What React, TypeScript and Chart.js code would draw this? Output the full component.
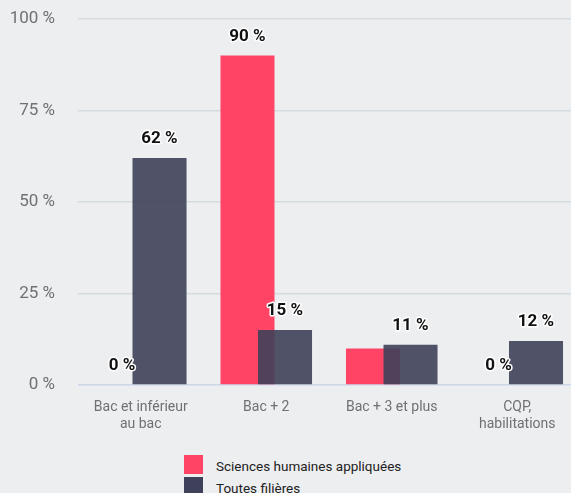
import React, { useEffect, useRef } from "react";
import { Chart, registerables } from "chart.js";

Chart.register(...registerables);

const categories: (string | string[])[] = [
  ["Bac et inférieur", "au bac"],
  "Bac + 2",
  "Bac + 3 et plus",
  ["CQP,", "habilitations"],
];
const seriesNames = ["Sciences humaines appliquées", "Toutes filières"];
const sciencesValues = [0, 90, 10, 0];
const toutesValues = [62, 15, 11, 12];
const yTicks = [0, 25, 50, 75, 100];

const PINK = "#ff4466";
const DARK = "rgba(62,65,89,0.9)";
const DARK_SOLID = "#3e4159";
const FONT = "Roboto";

let drawingLate = false;

const dataLabelPlugin = {
  id: "dataLabels",
  beforeDatasetDraw(chart: any, args: any) {
    // the second series is drawn on top of the first one
    if (args.index === 1 && !drawingLate) return false;
    return true;
  },
  afterDatasetsDraw(chart: any) {
    const ctx = chart.ctx;
    drawingLate = true;
    const lateMeta = chart.getDatasetMeta(1);
    if (lateMeta && !lateMeta.hidden) lateMeta.controller.draw();
    drawingLate = false;

    ctx.save();
    ctx.font = `bold 17px ${FONT}`;
    ctx.textAlign = "center";
    ctx.textBaseline = "middle";
    ctx.lineJoin = "round";
    const labels: any[] = [];
    chart.data.datasets.forEach((ds: any, di: number) => {
      const meta = chart.getDatasetMeta(di);
      meta.data.forEach((bar: any, i: number) => {
        const value = ds.data[i];
        const text = `${value} %`;
        const w = ctx.measureText(text).width + 6;
        const y = bar.y - 19;
        labels.push({ text, value, x: bar.x, y, w, h: 20 });
      });
    });
    // hide overlapping labels, keep higher values first
    const placed: any[] = [];
    [...labels]
      .sort((a, b) => b.value - a.value)
      .forEach((l) => {
        const hit = placed.some(
          (p) => Math.abs(p.x - l.x) < (p.w + l.w) / 2 && Math.abs(p.y - l.y) < (p.h + l.h) / 2
        );
        if (!hit) placed.push(l);
      });
    labels.forEach((l) => {
      if (!placed.includes(l)) return;
      ctx.strokeStyle = "#ffffff";
      ctx.lineWidth = 3;
      ctx.strokeText(l.text, l.x, l.y);
      ctx.fillStyle = "#111111";
      ctx.fillText(l.text, l.x, l.y);
    });
    ctx.restore();
  },
};

function ChartView() {
  const ref = useRef<HTMLCanvasElement | null>(null);
  useEffect(() => {
    document.body.style.margin = "0";
    document.body.style.background = "#edeef0";
    if (!ref.current) return;
    const chart = new Chart(ref.current, {
      type: "bar",
      data: {
        labels: categories as any,
        datasets: [
          {
            label: seriesNames[0],
            data: sciencesValues,
            backgroundColor: PINK,
            categoryPercentage: 0.598,
            barPercentage: 1.44,
          },
          {
            label: seriesNames[1],
            data: toutesValues,
            backgroundColor: DARK,
            categoryPercentage: 0.598,
            barPercentage: 1.44,
          },
        ],
      },
      options: {
        animation: false,
        responsive: false,
        maintainAspectRatio: false,
        layout: { padding: { top: 19, left: 0, right: 0, bottom: 0 } },
        plugins: {
          legend: { display: false },
          tooltip: { enabled: false },
        },
        scales: {
          x: {
            grid: { display: false, drawTicks: false },
            border: { display: false },
            ticks: {
              padding: 14,
              color: "#707070",
              font: { family: FONT, size: 14, lineHeight: 17 / 14 },
              maxRotation: 0,
              autoSkip: false,
            },
            afterFit: (scale: any) => {
              scale.height = 55;
            },
          },
          y: {
            min: 0,
            max: 100,
            afterBuildTicks: (scale: any) => {
              scale.ticks = yTicks.map((v) => ({ value: v }));
            },
            grid: {
              drawTicks: false,
              lineWidth: 1.5,
              color: (c: any) => (c.tick && c.tick.value === 0 ? "#ccd6eb" : "#d3dbe0"),
            },
            border: { display: false },
            ticks: {
              padding: 23,
              color: "#707070",
              font: { family: FONT, size: 17 },
              callback: (v: any) => `${v} %`,
            },
            afterFit: (scale: any) => {
              scale.width = 78;
              scale.paddingTop = 0;
              scale.paddingBottom = 0;
            },
          },
        },
      },
      plugins: [dataLabelPlugin],
    });
    return () => chart.destroy();
  }, []);
  return <canvas ref={ref} width={580} height={440} style={{ display: "block", width: 580, height: 440 }} />;
}

export default function App() {
  const colors = [PINK, DARK_SOLID];
  return (
    <div
      style={{
        position: "relative",
        width: 571,
        height: 493,
        overflow: "hidden",
        background: "#edeef0",
        fontFamily: FONT,
      }}
    >
      <ChartView />
      {seriesNames.map((name, i) => (
        <div
          key={name}
          style={{
            position: "absolute",
            left: 184,
            top: 455 + i * 22,
            height: 19,
            display: "flex",
            alignItems: "center",
            whiteSpace: "nowrap",
          }}
        >
          <span style={{ display: "inline-block", width: 19, height: 19, background: colors[i] }} />
          <span style={{ marginLeft: 13, fontSize: 13.5, color: "#222", position: "relative", top: 1 }}>{name}</span>
        </div>
      ))}
    </div>
  );
}
